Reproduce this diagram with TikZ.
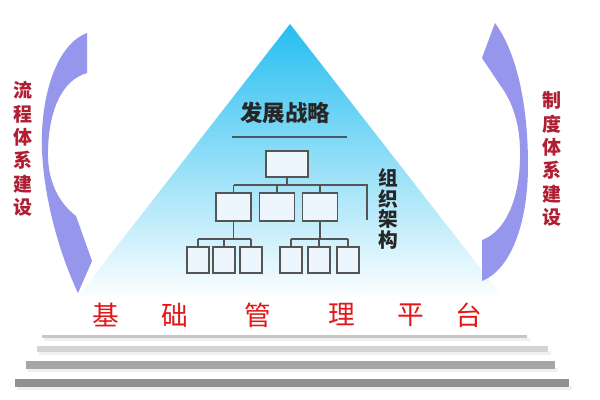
\documentclass[tikz,border=0pt]{standalone}
\usepackage{fontspec}
\newfontfamily\cjk{Noto Sans CJK SC}
\usetikzlibrary{positioning, calc}
\definecolor{pyrtop}{RGB}{38,190,240}
\definecolor{pyrmid}{RGB}{150,212,246}
\definecolor{arrowlav}{RGB}{150,150,236}
\definecolor{sidered}{RGB}{175,30,50}
\definecolor{basered}{RGB}{228,22,22}
\definecolor{boxline}{RGB}{85,85,85}
\definecolor{boxfill}{RGB}{236,246,252}
\definecolor{ruleline}{RGB}{70,90,100}
\tikzset{orgbox/.style={draw=boxline, fill=boxfill, line width=1.2pt, inner sep=0pt}}
\tikzset{topbox/.style={orgbox, minimum width=1.05cm, minimum height=0.65cm}}
\tikzset{midbox/.style={orgbox, minimum width=0.875cm, minimum height=0.7cm}}
\tikzset{lowbox/.style={orgbox, minimum width=0.55cm, minimum height=0.65cm}}
\tikzset{link/.style={draw=boxline, line width=1.2pt}}
\tikzset{sidetext/.style={inner sep=0pt, align=center, text=sidered, font=\cjk\bfseries\fontsize{13.5}{16.6}\selectfont}}
\tikzset{orgtext/.style={inner sep=0pt, align=center, text=black!85, font=\cjk\bfseries\fontsize{14}{14.6}\selectfont}}
\tikzset{basechar/.style={inner sep=0pt, text=basered, font=\cjk\fontsize{19}{19}\selectfont}}
\tikzset{stepbar/.style={draw=none}}

\begin{document}
\begin{tikzpicture}[x=0.025cm, y=-0.025cm]
    \useasboundingbox (0,0) rectangle (600,400);
    \fill [white] (0,0) rectangle (600,400);

    % pyramid
    \shade [top color=pyrtop, middle color=pyrmid, bottom color=white] (290,24) -- (505,300) -- (75,300) -- cycle;

    % curved arrows
    \fill [arrowlav] (87,33) .. controls (55,45) and (40,100) .. (42,150)
        .. controls (44,200) and (60,255) .. (78,293) -- (92,261) -- (76,216)
        .. controls (55,200) and (47,175) .. (48,150)
        .. controls (49,110) and (62,80) .. (87,73) -- cycle;
    \fill [arrowlav] (495,23) -- (482,58) -- (500,85)
        .. controls (515,105) and (521,130) .. (520,160)
        .. controls (519,200) and (505,232) .. (482,240) -- (482,281)
        .. controls (510,270) and (528,225) .. (528,165)
        .. controls (528,100) and (515,50) .. (495,23) -- cycle;

    \node [sidetext] (Flow) at (23,149) {流\\程\\体\\系\\建\\设};
    \node [sidetext] (Rule) at (552,159) {制\\度\\体\\系\\建\\设};

    % strategy title
    \node [inner sep=0pt, text=black!85, font=\cjk\bfseries\fontsize{16}{16}\selectfont] (Title) at (285,113) {发展战略};
    \coordinate (RuleL) at (232,137);
    \coordinate (RuleR) at (347,137);
    \draw [ruleline, line width=1.2pt] (RuleL) -- (RuleR);

    % org chart
    \node [topbox] (T) at (287,164) {};
    \node [midbox] (M1) at (233.5,207) {};
    \node [midbox] (M2) at (277,207) {};
    \node [midbox] (M3) at (320,207) {};
    \node [lowbox] (L1) at (198,260) {};
    \node [lowbox] (L2) at (224,260) {};
    \node [lowbox] (L3) at (251,260) {};
    \node [lowbox] (R1) at (291,260) {};
    \node [lowbox] (R2) at (319,260) {};
    \node [lowbox] (R3) at (348,260) {};

    \coordinate (Bar) at (0,185);
    \coordinate (BarEnd) at (367,185);
    \coordinate (BarTail) at (367,220);
    \coordinate (Low) at (0,239);

    \draw [link] (T.south) -- (T.south |- Bar);
    \draw [link] (M1.north |- Bar) -- (BarEnd) -- (BarTail);
    \draw [link] (M1.north) -- (M1.north |- Bar);
    \draw [link] (M2.north) -- (M2.north |- Bar);
    \draw [link] (M3.north) -- (M3.north |- Bar);

    \draw [link] (M1.south) -- (M1.south |- Low);
    \draw [link] (L1.north |- Low) -- (L3.north |- Low);
    \draw [link] (L1.north) -- (L1.north |- Low);
    \draw [link] (L2.north) -- (L2.north |- Low);
    \draw [link] (L3.north) -- (L3.north |- Low);

    \draw [link] (M3.south) -- (M3.south |- Low);
    \draw [link] (R1.north |- Low) -- (R3.north |- Low);
    \draw [link] (R1.north) -- (R1.north |- Low);
    \draw [link] (R2.north) -- (R2.north |- Low);
    \draw [link] (R3.north) -- (R3.north |- Low);

    \node [orgtext] (Org) at (388,209) {组\\织\\架\\构};

    % base platform
    \foreach \ch/\x [count=\i] in {基/106, 础/175, 管/258, 理/342, 平/411, 台/469}
        \node [basechar] (P\i) at (\x,315) {\ch};

    % steps
    \fill [stepbar, black!6] (44,338) rectangle (530,341);
    \fill [stepbar, black!22] (42,335) rectangle (527,338);
    \fill [stepbar, black!6] (39,351) rectangle (551,355);
    \fill [stepbar, black!17] (37,346) rectangle (548,352);
    \fill [stepbar, black!6] (28,368) rectangle (558,372);
    \fill [stepbar, black!35] (26,361) rectangle (555,369);
    \fill [stepbar, black!6] (17,386) rectangle (572,390);
    \fill [stepbar, black!43] (15,379) rectangle (569,387);
\end{tikzpicture}
\end{document}
